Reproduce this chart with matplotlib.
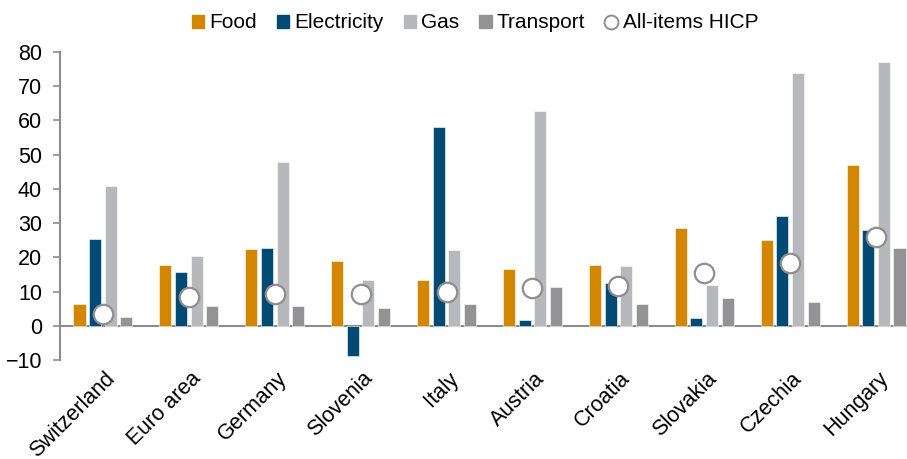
import numpy as np
import matplotlib
matplotlib.use("Agg")
import matplotlib.pyplot as plt
from matplotlib.lines import Line2D
from matplotlib.patches import Patch
import matplotlib.transforms as mtransforms

plt.rcParams['font.family'] = ['Liberation Sans', 'DejaVu Sans']

countries = ["Switzerland", "Euro area", "Germany", "Slovenia", "Italy",
             "Austria", "Croatia", "Slovakia", "Czechia", "Hungary"]
food = [6.5, 17.8, 22.3, 19.0, 13.5, 16.6, 17.9, 28.7, 25.1, 47.0]
electricity = [25.5, 15.8, 22.7, -8.8, 58.2, 1.8, 12.5, 2.4, 32.0, 28.0]
gas = [40.7, 20.4, 47.8, 13.3, 22.1, 62.9, 17.5, 12.0, 74.0, 77.0]
transport = [2.5, 5.8, 5.8, 5.1, 6.5, 11.2, 6.3, 8.1, 7.0, 22.6]
hicp = [3.3, 8.5, 9.2, 9.3, 9.8, 11.0, 11.6, 15.3, 18.4, 25.8]

c_food = "#D38600"
c_elec = "#004A73"
c_gas = "#B7B8BC"
c_trans = "#939396"
c_axis = "#8C8C8E"

fig = plt.figure(figsize=(9.07, 4.59), dpi=100)
ax = fig.add_axes([60 / 907, 99 / 459, 859 / 907, 308 / 459])

x = np.arange(len(countries))
step = 0.182
w = 0.14
series = [(food, c_food, "Food"), (electricity, c_elec, "Electricity"),
          (gas, c_gas, "Gas"), (transport, c_trans, "Transport")]
for i, (vals, col, name) in enumerate(series):
    ax.bar(x + (i - 1.5) * step, vals, width=w, color=col,
           edgecolor="white", linewidth=0.4, zorder=2)

ax.plot(x, hicp, "o", markersize=14, markerfacecolor="white",
        markeredgecolor="#8E8E90", markeredgewidth=1.6, zorder=3)

ax.set_xlim(-0.5, 9.5)
ax.set_ylim(-10, 80)
ax.set_yticks(range(-10, 81, 10))
ax.axhline(0, color=c_axis, linewidth=1.5, zorder=1)

for s in ["top", "right", "bottom"]:
    ax.spines[s].set_visible(False)
ax.spines["left"].set_color(c_axis)
ax.spines["left"].set_linewidth(1.5)
ax.tick_params(axis="y", colors=c_axis, length=5, width=1.2,
               labelsize=15.5, labelcolor="black", pad=8)
ax.tick_params(axis="x", length=0, labelsize=15.5, pad=11)

ax.set_xticks(x)
ax.set_xticklabels(countries, rotation=45, ha="right", va="center",
                   rotation_mode="anchor")
offset = mtransforms.ScaledTranslation(9 / 100, 0, fig.dpi_scale_trans)
for lbl in ax.get_xticklabels():
    lbl.set_transform(lbl.get_transform() + offset)

handles = [Patch(color=c_food, label="Food"),
           Patch(color=c_elec, label="Electricity"),
           Patch(color=c_gas, label="Gas"),
           Patch(color=c_trans, label="Transport"),
           Line2D([], [], marker="o", linestyle="none", markersize=10,
                  markerfacecolor="white", markeredgecolor="#8E8E90",
                  markeredgewidth=1.4, label="All-items HICP")]
fig.legend(handles=handles, loc="center", bbox_to_anchor=(475 / 907, 1 - 23 / 459),
           ncol=5, frameon=False, fontsize=15, handlelength=0.6,
           handleheight=0.6, handletextpad=0.25, columnspacing=0.95)

fig.savefig("out.png", dpi=100)
